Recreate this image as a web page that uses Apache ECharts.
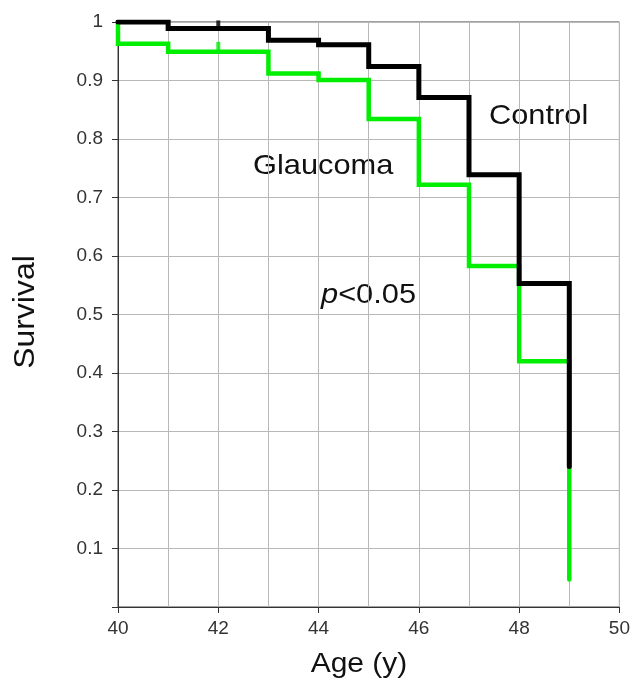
<!DOCTYPE html>
<html>
<head>
<meta charset="utf-8">
<script src="https://cdn.jsdelivr.net/npm/echarts@6/dist/echarts.min.js"></script>
<style>
  html, body { margin: 0; padding: 0; background: #fff; }
  #main { width: 633px; height: 684px; }
</style>
</head>
<body>
<div id="main"></div>
<script>
// survival steps
const controlAges = [40, 41, 43, 44, 45, 46, 47, 48, 49];
const controlSurv = [1, 0.989, 0.969, 0.961, 0.924, 0.871, 0.739, 0.553, 0.24];
const glaucAges = [40, 40, 41, 43, 44, 45, 46, 47, 48, 49];
const glaucSurv = [1, 0.963, 0.949, 0.912, 0.901, 0.834, 0.722, 0.583, 0.42, 0.047];
// censoring marks
const censorAge = 42;
const controlCensor = 0.989;
const glaucCensor = 0.949;

const FONT = '"Liberation Sans", Arial, sans-serif';
const TXT = '#111';

let chart = echarts.init(document.getElementById('main'));

function pairs(xs, ys) {
    return xs.map((x, i) => [x, ys[i]]);
}

// text label helper, slightly stretched like the source picture
function label(text, x, y, size, extra) {
    return Object.assign({
        type: 'text', x: x, y: y, scaleX: 1.1,
        style: {
            text: text, x: 0, y: 0,
            fontFamily: FONT, fontSize: size, fill: TXT,
            textAlign: 'left', textVerticalAlign: 'middle'
        }
    }, extra || {});
}

let opt = {
    animation: false,
    backgroundColor: '#fff',
    grid: { left: 118, right: 11, top: 22, bottom: 77, show: true, borderColor: '#444', borderWidth: 1 },
    xAxis: {
        type: 'value',
        min: 40, max: 50, interval: 2,
        axisLine: { show: true, lineStyle: { color: '#333', width: 1 } },
        axisTick: { show: true, length: 6, lineStyle: { color: '#333' } },
        axisLabel: { fontFamily: FONT, fontSize: 19, color: '#333', margin: 12 },
        splitLine: { show: true, lineStyle: { color: '#b8b8b8', width: 1 } },
        minorTick: { show: false, splitNumber: 2 },
        minorSplitLine: { show: true, lineStyle: { color: '#b8b8b8', width: 1 } }
    },
    yAxis: {
        type: 'value',
        min: 0, max: 1, interval: 0.1,
        axisLine: { show: true, lineStyle: { color: '#333', width: 1 } },
        axisTick: { show: true, length: 6, lineStyle: { color: '#333' } },
        axisLabel: {
            fontFamily: FONT, fontSize: 19, color: '#333', margin: 15,
            formatter: v => v === 0 ? '' : String(+v.toFixed(1))
        },
        splitLine: { show: true, lineStyle: { color: '#b8b8b8', width: 1 } }
    },
    series: [
        {
            name: 'Glaucoma',
            type: 'line',
            step: 'end',
            showSymbol: false,
            data: pairs(glaucAges, glaucSurv),
            lineStyle: { color: '#00ee00', width: 4.5, cap: 'round', join: 'miter' },
            z: 2
        },
        {
            name: 'Control',
            type: 'line',
            step: 'end',
            showSymbol: false,
            data: pairs(controlAges, controlSurv),
            lineStyle: { color: '#000', width: 5, cap: 'round', join: 'miter' },
            z: 3
        },
        {
            type: 'scatter',
            data: [[censorAge, glaucCensor]],
            symbol: 'rect',
            symbolSize: [4, 10],
            symbolOffset: [0, -5],
            itemStyle: { color: '#00ee00' },
            z: 2
        },
        {
            type: 'scatter',
            data: [[censorAge, controlCensor]],
            symbol: 'rect',
            symbolSize: [4, 8],
            symbolOffset: [0, -4],
            itemStyle: { color: '#000' },
            z: 3
        }
    ],
    graphic: [
        label('Control', 489, 116, 28),
        label('Glaucoma', 253, 166, 28),
        {
            type: 'text', x: 321, y: 295, scaleX: 1.1,
            style: {
                text: '{i|p}<0.05', x: 0, y: 0,
                fontFamily: FONT, fontSize: 28, fill: TXT,
                textAlign: 'left', textVerticalAlign: 'middle',
                rich: { i: { fontFamily: FONT, fontSize: 28, fontStyle: 'italic', fill: TXT } }
            }
        },
        {
            type: 'text', x: 359, y: 664, scaleX: 1.07,
            style: {
                text: 'Age (y)', x: 0, y: 0,
                fontFamily: FONT, fontSize: 28, fill: TXT,
                textAlign: 'center', textVerticalAlign: 'middle'
            }
        },
        {
            type: 'text', x: 26, y: 312, rotation: Math.PI / 2, scaleX: 1.1,
            style: {
                text: 'Survival', x: 0, y: 0,
                fontFamily: FONT, fontSize: 29, fill: TXT,
                textAlign: 'center', textVerticalAlign: 'middle'
            }
        }
    ]
};

chart.setOption(opt);
</script>
</body>
</html>
